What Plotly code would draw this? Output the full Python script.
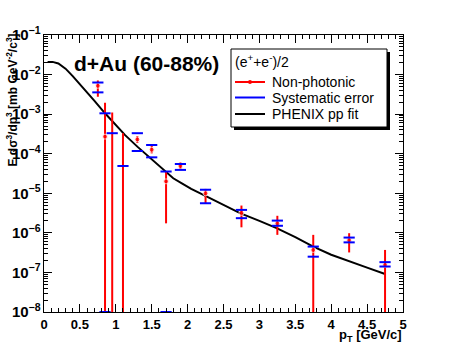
import numpy as np
import plotly.graph_objects as go

# PHENIX pp fit curve
fit_pt = [0.05, 0.12, 0.2, 0.3, 0.4, 0.5, 0.6, 0.7, 0.85, 1.0, 1.13, 1.3, 1.43, 1.55, 1.69,
          1.8, 1.92, 2.05, 2.22, 2.4, 2.73, 3.0, 3.24, 3.5, 3.75, 4.0, 4.26, 4.5, 4.75]
fit_val = [2.09e-2, 2.09e-2, 1.91e-2, 1.41e-2, 9.12e-3, 5.75e-3, 3.55e-3, 2.19e-3, 1.05e-3,
           5.25e-4, 2.95e-4, 1.51e-4, 9.3e-5, 6.0e-5, 3.55e-5, 2.4e-5, 1.78e-5, 1.29e-5,
           9.1e-6, 6.2e-6, 3.16e-6, 2.0e-6, 1.32e-6, 7.8e-7, 4.5e-7, 2.8e-7, 1.86e-7, 1.32e-7, 9.1e-8]

# non-photonic electrons (e+ + e-)/2
pt = [0.75, 0.85, 0.95, 1.1, 1.3, 1.5, 1.7, 1.9, 2.25, 2.75, 3.25, 3.75, 4.25, 4.75]
yld = [5.2e-3, 2.7e-4, 3.3e-4, 4.9e-5, 2.3e-4, 1.26e-4, 2.0e-5, 4.9e-5, 1.0e-5, 3.2e-6,
       1.74e-6, 3.7e-7, 6.5e-7, 1.55e-7]
stat_hi = [7.1e-3, 1.95e-3, 1.1e-3, 3.3e-4, 2.8e-4, 1.58e-4, 3.55e-5, 6.0e-5, 1.29e-5, 4.9e-6,
           2.7e-6, 8.9e-7, 9.8e-7, 3.7e-7]
stat_lo = [2.75e-3, 1e-10, 1e-10, 1e-10, 1.86e-4, 1.02e-4, 1.74e-6, 4.1e-5, 5.6e-6, 1.38e-6,
           8.9e-7, 1e-10, 3.2e-7, 1e-10]
sys_hi = [6.3e-3, 1.05e-3, 3.3e-4, 4.9e-5, 3.3e-4, 1.66e-4, 3.55e-5, 5.5e-5, 1.23e-5, 3.8e-6,
          2.04e-6, 4.5e-7, 7.6e-7, 1.82e-7]
sys_lo = [3.55e-3, 1e-8, None, None, 1.17e-4, 8.1e-5, 1e-8, 3.9e-5, 5.6e-6, 2.35e-6,
          1.51e-6, 2.5e-7, 5.75e-7, 1.41e-7]
# points whose central value is not drawn
hidden = [False, False, True, True, False, False, False, False, False, False, False, False, False, False]

W, H = 449, 348
X0, X1, Y0, Y1 = 44, 403, 35, 312   # frame in pixels
L, R, T, B = X0, W - X1, Y0, H - Y1


def px(x):
    return (x - X0) / (X1 - X0)


def py(y):
    return (Y1 - y) / (Y1 - Y0)


y_arr = np.array(yld)
fig = go.Figure()

fig.add_trace(go.Scatter(x=fit_pt, y=fit_val, mode='lines',
                         line=dict(color='black', width=2), showlegend=False))

fig.add_trace(go.Scatter(
    x=pt, y=yld, mode='markers',
    marker=dict(color='red', size=[0 if h else 5 for h in hidden], symbol='circle'),
    error_y=dict(type='data', symmetric=False,
                 array=np.array(stat_hi) - y_arr, arrayminus=y_arr - np.array(stat_lo),
                 color='red', thickness=2, width=0),
    showlegend=False))

sys_x = pt + pt
sys_y = sys_hi + sys_lo
fig.add_trace(go.Scatter(x=sys_x, y=sys_y, mode='markers',
                         marker=dict(symbol='line-ew', size=8, line=dict(color='blue', width=2)),
                         cliponaxis=False, showlegend=False))

fig.update_xaxes(range=[0, 5], dtick=0.5, ticks='inside', ticklen=8, tickcolor='black',
                 showline=True, linecolor='black', linewidth=1, mirror='allticks',
                 showgrid=False, zeroline=False, automargin=False,
                 tickfont=dict(family='Arial', size=13, color='black', weight='bold'),
                 minor=dict(dtick=0.1, ticks='inside', ticklen=4, tickcolor='black', showgrid=False))
fig.update_yaxes(type='log', range=[-8, -1], dtick=1, exponentformat='power',
                 ticks='inside', ticklen=8, tickcolor='black',
                 showline=True, linecolor='black', linewidth=1, mirror='allticks',
                 showgrid=False, zeroline=False, automargin=False,
                 tickfont=dict(family='Arial', size=12, color='black', weight='bold'),
                 minor=dict(dtick='D1', ticks='inside', ticklen=4, tickcolor='black', showgrid=False))

# legend box with shadow
fig.add_shape(type='rect', xref='paper', yref='paper', x0=px(234), x1=px(390), y0=py(130), y1=py(52),
              fillcolor='black', line=dict(width=0), layer='above')
fig.add_shape(type='rect', xref='paper', yref='paper', x0=px(231), x1=px(387), y0=py(127), y1=py(49),
              fillcolor='white', line=dict(color='black', width=1), layer='above')

legend_font = dict(family='Arial', size=14, color='black')
fig.add_annotation(x=px(233), y=py(61), xref='paper', yref='paper', xanchor='left', yanchor='middle',
                   text='(e<sup>+</sup>+e<sup>-</sup>)/2', showarrow=False, font=legend_font)
rows = [('Non-photonic', 'red', 82), ('Systematic error', 'blue', 97.5), ('PHENIX pp fit', 'black', 114)]
for label, col, yy in rows:
    fig.add_shape(type='line', xref='paper', yref='paper', x0=px(235), x1=px(265), y0=py(yy), y1=py(yy),
                  line=dict(color=col, width=2), layer='above')
    fig.add_annotation(x=px(270), y=py(yy), xref='paper', yref='paper', xanchor='left', yanchor='middle',
                       text=label, showarrow=False, font=legend_font)
fig.add_shape(type='circle', xref='paper', yref='paper', x0=px(248), x1=px(252), y0=py(84), y1=py(80),
              fillcolor='red', line=dict(color='red', width=0), layer='above')

fig.add_annotation(x=px(72), y=py(63), xref='paper', yref='paper', xanchor='left', yanchor='middle',
                   text='d+Au (60-88%)', showarrow=False,
                   font=dict(family='Arial', size=21, color='black', weight='bold'))
fig.add_annotation(x=px(11), y=py(32), xref='paper', yref='paper', xanchor='center', yanchor='top',
                   text='E dσ<sup>3</sup>/dp<sup>3</sup> [mb GeV<sup>-2</sup>/c<sup>3</sup>]',
                   textangle=-90, showarrow=False,
                   font=dict(family='Arial', size=12, color='black', weight='bold'))
fig.add_annotation(x=px(404), y=py(335), xref='paper', yref='paper', xanchor='right', yanchor='middle',
                   text='p<sub>T</sub> [GeV/c]', showarrow=False,
                   font=dict(family='Arial', size=13, color='black', weight='bold'))

fig.update_layout(width=W, height=H, margin=dict(l=L, r=R, t=T, b=B),
                  paper_bgcolor='white', plot_bgcolor='white', showlegend=False)

# drop the default page margin so the figure sits at the window's corner
fig.write_html("out.html", config={'displayModeBar': False},
               post_script="document.body.style.margin='0';")
